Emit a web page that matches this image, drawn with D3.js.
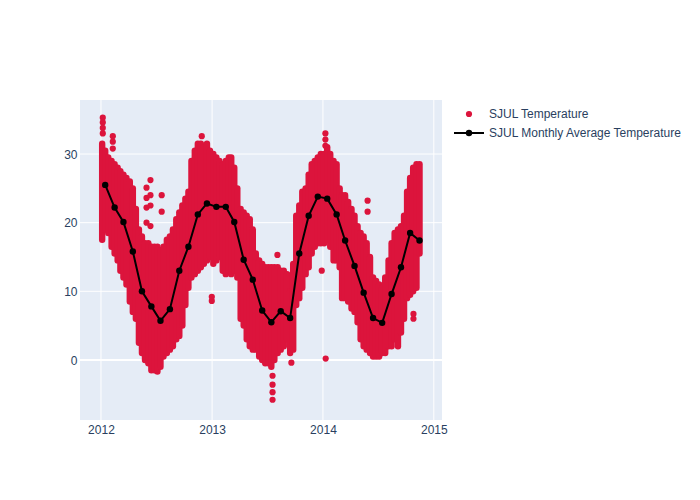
<!DOCTYPE html>
<html>
<head>
<meta charset="utf-8">
<script src="https://cdn.jsdelivr.net/npm/d3@7"></script>
<style>
  html, body { margin: 0; padding: 0; background: #fff; }
  svg { display: block; font-family: "Liberation Sans", Arial, sans-serif; }
</style>
</head>
<body>
<svg id="chart" width="700" height="500"></svg>
<script>
// ---- Data ----
// SJUL Temperature: per ~10-day window, lowest and highest reading
const tempDates = [
  "2012-01-05","2012-01-15","2012-01-25","2012-02-05","2012-02-15","2012-02-25",
  "2012-03-05","2012-03-15","2012-03-25","2012-04-05","2012-04-15","2012-04-25",
  "2012-05-05","2012-05-15","2012-05-25","2012-06-05","2012-06-15","2012-06-25",
  "2012-07-05","2012-07-15","2012-07-25","2012-08-05","2012-08-15","2012-08-25",
  "2012-09-05","2012-09-15","2012-09-25","2012-10-05","2012-10-15","2012-10-25",
  "2012-11-05","2012-11-15","2012-11-25","2012-12-05","2012-12-15","2012-12-25",
  "2013-01-05","2013-01-15","2013-01-25","2013-02-05","2013-02-15","2013-02-25",
  "2013-03-05","2013-03-15","2013-03-25","2013-04-05","2013-04-15","2013-04-25",
  "2013-05-05","2013-05-15","2013-05-25","2013-06-05","2013-06-15","2013-06-25",
  "2013-07-05","2013-07-15","2013-07-25","2013-08-05","2013-08-15","2013-08-25",
  "2013-09-05","2013-09-15","2013-09-25","2013-10-05","2013-10-15","2013-10-25",
  "2013-11-05","2013-11-15","2013-11-25","2013-12-05","2013-12-15","2013-12-25",
  "2014-01-05","2014-01-15","2014-01-25","2014-02-05","2014-02-15","2014-02-25",
  "2014-03-05","2014-03-15","2014-03-25","2014-04-05","2014-04-15","2014-04-25",
  "2014-05-05","2014-05-15","2014-05-25","2014-06-05","2014-06-15","2014-06-25",
  "2014-07-05","2014-07-15","2014-07-25","2014-08-05","2014-08-15","2014-08-25",
  "2014-09-05","2014-09-15","2014-09-25","2014-10-05","2014-10-15","2014-10-25",
  "2014-11-05","2014-11-15"
];
const tempLow = [
  17.5, 19.0, 18.5, 16.5, 15.5, 14.5,
  13.0, 12.0, 11.0, 8.5, 7.0, 6.0,
  2.5, 1.0, 0.0, -0.5, -1.5, -1.5,
  -1.7, -1.0, 0.5, 1.0, 1.5, 2.0,
  3.0, 3.5, 5.0, 8.0, 10.5, 12.0,
  12.5, 13.0, 13.5, 14.0, 14.5, 15.0,
  14.0, 14.5, 15.0, 13.0, 12.5, 13.0,
  12.5, 13.0, 12.0, 6.0, 5.0, 3.0,
  2.0, 1.5, 1.5, 0.5, 0.0, -0.5,
  -0.5, -1.0, 0.0, 1.0, 1.5, 2.0,
  3.0, 1.0, 1.5, 8.0, 9.0, 10.5,
  12.5, 13.5, 15.5, 16.5, 17.0, 17.0,
  17.0, 17.5, 16.5, 14.5, 14.5, 13.5,
  9.0, 9.0, 8.5, 7.5, 7.0, 5.5,
  3.0, 2.0, 1.5, 1.0, 0.5, 0.5,
  0.5, 1.0, 1.0, 2.0, 2.0, 3.0,
  2.0, 4.0, 6.0, 9.0, 9.5, 10.0,
  10.5, 15.5
];
const tempHigh = [
  31.5, 30.5, 29.5, 29.0, 28.5, 28.0,
  27.5, 27.0, 26.5, 26.0, 25.0, 22.0,
  19.0, 18.0, 17.0, 17.0, 16.5, 16.5,
  16.5, 16.0, 16.5, 17.5, 18.0, 19.0,
  20.5, 21.5, 22.5, 23.5, 24.5, 29.0,
  30.5, 31.5, 31.5, 31.0, 31.5, 30.5,
  30.0, 29.5, 29.0, 28.5, 29.0, 29.5,
  29.5, 28.0, 25.0, 22.0, 21.5, 21.0,
  20.5, 19.0, 15.5, 14.5, 14.0, 13.5,
  13.5, 13.5, 13.5, 13.5, 13.0, 13.0,
  12.5, 10.0, 14.0, 21.0, 22.5, 24.5,
  25.0, 27.0, 28.5, 29.0, 29.5, 30.0,
  30.0, 31.0, 30.0, 29.0, 28.5, 25.0,
  24.0, 24.0, 23.0, 22.0, 21.0, 19.5,
  18.5, 18.0, 17.0, 15.0, 12.0, 11.5,
  11.0, 10.5, 12.0, 14.5, 17.0, 18.5,
  19.0, 19.5, 21.0, 24.5, 26.5, 28.0,
  28.5, 28.5
];
// SJUL Temperature: single readings standing apart from the main cloud
const isoDates = [
  "2012-01-07","2012-01-07","2012-01-07","2012-01-07",
  "2012-02-09","2012-02-09","2012-02-09",
  "2012-05-30","2012-05-30","2012-05-30","2012-05-30",
  "2012-06-12","2012-06-12","2012-06-12","2012-06-12",
  "2012-07-19","2012-07-19",
  "2012-11-28",
  "2012-12-31","2012-12-31",
  "2013-07-19","2013-07-19","2013-07-19","2013-07-19",
  "2013-08-04",
  "2013-09-19",
  "2013-12-28",
  "2014-01-09","2014-01-09","2014-01-09","2014-01-10",
  "2014-05-28","2014-05-28",
  "2014-10-26","2014-10-26"
];
const isoValues = [
  33.0, 33.8, 34.6, 35.3,
  30.8, 31.8, 32.6,
  25.1, 23.6, 22.2, 20.0,
  26.2, 24.0, 22.5, 19.5,
  24.0, 21.6,
  32.6,
  8.6, 9.2,
  -2.3, -3.6, -4.7, -5.8,
  15.3,
  -0.4,
  13.0,
  31.2, 32.1, 33.0, 0.2,
  23.2, 21.6,
  6.7, 6.0
];
// SJUL Monthly Average Temperature
const avgMonths = [
  "2012-01-15","2012-02-15","2012-03-15","2012-04-15","2012-05-15","2012-06-15",
  "2012-07-15","2012-08-15","2012-09-15","2012-10-15","2012-11-15","2012-12-15",
  "2013-01-15","2013-02-15","2013-03-15","2013-04-15","2013-05-15","2013-06-15",
  "2013-07-15","2013-08-15","2013-09-15","2013-10-15","2013-11-15","2013-12-15",
  "2014-01-15","2014-02-15","2014-03-15","2014-04-15","2014-05-15","2014-06-15",
  "2014-07-15","2014-08-15","2014-09-15","2014-10-15","2014-11-15"
];
const avgValues = [
  25.5, 22.2, 20.1, 15.8, 10.0, 7.8, 5.7, 7.4, 13.0, 16.5, 21.2, 22.8,
  22.3, 22.3, 20.1, 14.6, 11.7, 7.2, 5.5, 7.1, 6.1, 15.5, 21.0, 23.8,
  23.5, 21.2, 17.4, 13.7, 9.8, 6.1, 5.4, 9.6, 13.5, 18.5, 17.4
];
const xTickLabels = ["2012", "2013", "2014", "2015"];
const yTickValues = [0, 10, 20, 30];
const seriesNames = ["SJUL Temperature", "SJUL Monthly Average Temperature"];

// ---- Drawing ----
const parse = d3.timeParse("%Y-%m-%d");
const svg = d3.select("#chart");
const plot = { left: 80, right: 442, top: 100, bottom: 420 };
const red = "#DC143C";
const textColor = "#2a3f5f";
const fontFamily = '"Liberation Sans", Arial, sans-serif';

const x = d3.scaleTime()
  .domain([parse("2011-10-24"), parse("2015-01-28")])
  .range([plot.left, plot.right]);
const y = d3.scaleLinear()
  .domain([-8.75, 37.87])
  .range([plot.bottom, plot.top]);

// background
svg.append("rect")
  .attr("x", plot.left).attr("y", plot.top)
  .attr("width", plot.right - plot.left).attr("height", plot.bottom - plot.top)
  .attr("fill", "#E5ECF6");

const xTickDates = xTickLabels.map(s => parse(s + "-01-01"));

// grid
const grid = svg.append("g");
grid.selectAll("line.vx").data(xTickDates).enter().append("line")
  .attr("x1", d => x(d)).attr("x2", d => x(d))
  .attr("y1", plot.top).attr("y2", plot.bottom)
  .attr("stroke", "#fff").attr("stroke-width", 1);
grid.selectAll("line.hy").data(yTickValues).enter().append("line")
  .attr("x1", plot.left).attr("x2", plot.right)
  .attr("y1", d => y(d)).attr("y2", d => y(d))
  .attr("stroke", "#fff").attr("stroke-width", d => d === 0 ? 2 : 1);

// axes
const xAxis = d3.axisBottom(x).tickValues(xTickDates).tickFormat(d3.timeFormat("%Y")).tickSize(0).tickPadding(0);
const gx = svg.append("g").attr("transform", `translate(0,${plot.bottom})`).call(xAxis);
gx.select(".domain").remove();
gx.selectAll("text").attr("dy", null).attr("y", 13.5).attr("fill", textColor)
  .style("font-size", "12px").style("font-family", fontFamily);

const yAxis = d3.axisLeft(y).tickValues(yTickValues).tickSize(0).tickPadding(0);
const gy = svg.append("g").attr("transform", `translate(${plot.left - 2.5},0)`).call(yAxis);
gy.select(".domain").remove();
gy.selectAll("text").attr("x", 0).attr("dy", "0.35em").attr("fill", textColor)
  .style("font-size", "12px").style("font-family", fontFamily);

// scatter cloud
svg.append("clipPath").attr("id", "clip").append("rect")
  .attr("x", plot.left).attr("y", plot.top)
  .attr("width", plot.right - plot.left).attr("height", plot.bottom - plot.top);
const scat = svg.append("g").attr("clip-path", "url(#clip)");
scat.selectAll("line.rng").data(tempDates).enter().append("line")
  .attr("x1", d => x(parse(d))).attr("x2", d => x(parse(d)))
  .attr("y1", (d, i) => y(tempLow[i])).attr("y2", (d, i) => y(tempHigh[i]))
  .attr("stroke", red).attr("stroke-width", 6.4).attr("stroke-linecap", "round");
scat.selectAll("circle.iso").data(isoDates).enter().append("circle")
  .attr("cx", d => x(parse(d))).attr("cy", (d, i) => y(isoValues[i]))
  .attr("r", 3.1).attr("fill", red);

// monthly average line
const avgData = avgMonths.map((d, i) => ({ date: parse(d), v: avgValues[i] }));
const line = d3.line().x(d => x(d.date)).y(d => y(d.v));
svg.append("path").datum(avgData)
  .attr("d", line).attr("fill", "none").attr("stroke", "#000").attr("stroke-width", 2);
svg.selectAll("circle.avg").data(avgData).enter().append("circle")
  .attr("cx", d => x(d.date)).attr("cy", d => y(d.v)).attr("r", 3.2).attr("fill", "#000");

// legend
const lg = svg.append("g").style("font-size", "12px").style("font-family", fontFamily);
lg.append("circle").attr("cx", 469).attr("cy", 114).attr("r", 3.1).attr("fill", red);
lg.append("text").attr("x", 489).attr("y", 114).attr("dy", "0.35em").attr("fill", textColor).text(seriesNames[0]);
lg.append("line").attr("x1", 454).attr("x2", 484).attr("y1", 133).attr("y2", 133)
  .attr("stroke", "#000").attr("stroke-width", 2);
lg.append("circle").attr("cx", 469).attr("cy", 133).attr("r", 3.2).attr("fill", "#000");
lg.append("text").attr("x", 489).attr("y", 133).attr("dy", "0.35em").attr("fill", textColor).text(seriesNames[1]);
</script>
</body>
</html>
